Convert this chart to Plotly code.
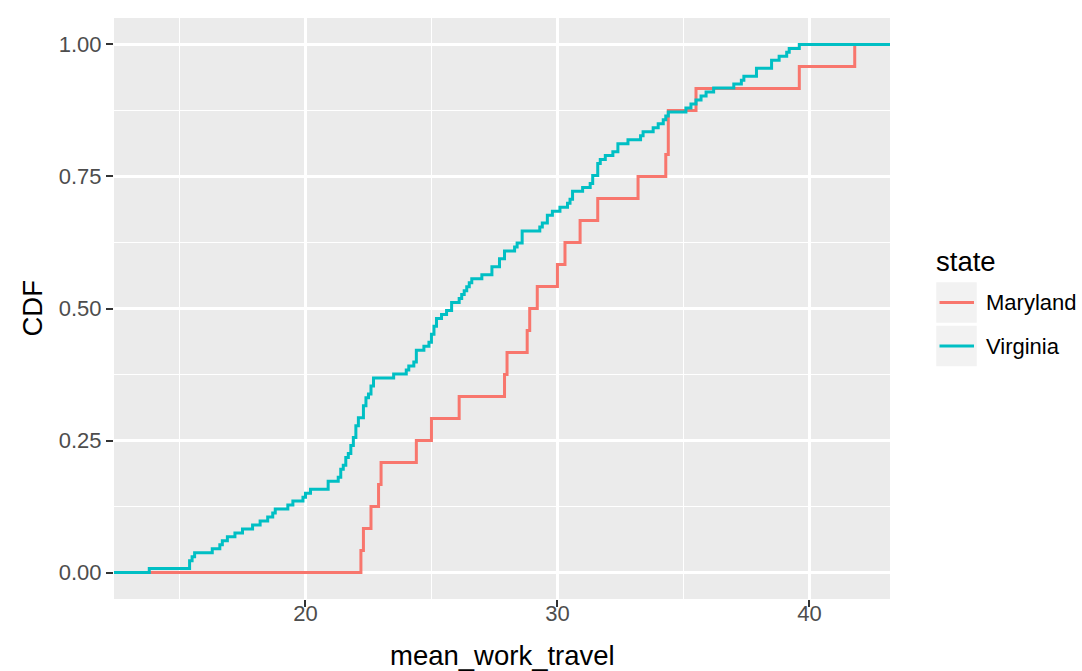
import numpy as np
import plotly.graph_objects as go

# ---- data: mean_work_travel per county ----
maryland_travel = [22.2, 22.3, 22.6, 22.9, 23.0, 24.4, 25.0, 26.1, 27.9, 28.0,
                   28.8, 28.9, 29.2, 30.0, 30.3, 30.9, 31.6, 33.2, 34.3, 34.4,
                   34.4, 35.5, 39.6, 41.8]

virginia_travel = [13.8, 15.4, 15.4, 15.5, 15.6, 16.3, 16.6, 16.7, 16.9, 17.2,
                   17.5, 17.9, 18.2, 18.5, 18.7, 18.8, 19.3, 19.5, 19.9, 20.0,
                   20.2, 20.9, 20.9, 21.3, 21.4, 21.4, 21.5, 21.6, 21.6, 21.7,
                   21.8, 21.8, 21.9, 21.9, 22.0, 22.0, 22.0, 22.1, 22.1, 22.3,
                   22.3, 22.3, 22.4, 22.4, 22.5, 22.6, 22.6, 22.7, 22.7, 23.5,
                   24.0, 24.1, 24.3, 24.4, 24.4, 24.4, 24.7, 24.9, 25.0, 25.0,
                   25.1, 25.1, 25.2, 25.2, 25.4, 25.6, 25.8, 25.8, 26.1, 26.2,
                   26.3, 26.4, 26.5, 26.6, 27.0, 27.4, 27.4, 27.7, 27.7, 27.9,
                   27.9, 28.3, 28.4, 28.6, 28.6, 28.6, 29.3, 29.4, 29.6, 29.6,
                   29.8, 30.1, 30.4, 30.5, 30.6, 30.6, 31.0, 31.3, 31.4, 31.4,
                   31.6, 31.6, 31.6, 31.7, 31.9, 32.2, 32.4, 32.4, 32.8, 33.3,
                   33.4, 33.8, 34.0, 34.2, 34.3, 34.4, 35.1, 35.3, 35.5, 35.7,
                   35.9, 36.2, 37.0, 37.3, 37.4, 37.9, 37.9, 38.5, 38.5, 38.8,
                   39.1, 39.2, 39.6]

states = ["Maryland", "Virginia"]
state_colors = {"Maryland": "#F8766D", "Virginia": "#00BFC4"}
state_values = {"Maryland": maryland_travel, "Virginia": virginia_travel}

x_major = [20, 30, 40]
x_minor = [15, 25, 35]
y_major = [0.0, 0.25, 0.5, 0.75, 1.0]
y_labels = ["0.00", "0.25", "0.50", "0.75", "1.00"]
y_minor = [0.125, 0.375, 0.625, 0.875]

# ---- scales (ggplot-like 5% expansion) ----
all_vals = np.concatenate([np.asarray(v, float) for v in state_values.values()])
span = all_vals.max() - all_vals.min()
x_lo = all_vals.min() - 0.05 * span
x_hi = all_vals.max() + 0.05 * span
y_lo, y_hi = -0.05, 1.05

FONT = "Liberation Sans, Arial, Helvetica, sans-serif"

fig = go.Figure()
for st in states:
    v = np.sort(np.asarray(state_values[st], float))
    uniq, counts = np.unique(v, return_counts=True)
    cdf = np.cumsum(counts) / len(v)
    xs = np.concatenate([[x_lo - 5], uniq, [x_hi + 5]])
    ys = np.concatenate([[0.0], cdf, [1.0]])
    fig.add_trace(go.Scatter(x=xs, y=ys, mode="lines", name=st,
                             line=dict(color=state_colors[st], width=3, shape="hv"),
                             showlegend=False, hoverinfo="skip"))

W, H = 1082, 671
ML, MR, MT, MB = 114, 192, 18, 72
PW, PH = W - ML - MR, H - MT - MB

def px(xp):
    return (xp - ML) / PW

def py(yp):
    return 1 - (yp - MT) / PH

tickfont = dict(family=FONT, size=22, color="#4D4D4D")

fig.update_layout(
    width=W, height=H, autosize=False,
    margin=dict(l=ML, r=MR, t=MT, b=MB, pad=0),
    paper_bgcolor="white", plot_bgcolor="#EBEBEB",
    font=dict(family=FONT, color="black"),
    xaxis=dict(range=[x_lo, x_hi], tickvals=x_major, ticktext=[str(t) for t in x_major],
               showgrid=True, gridcolor="white", gridwidth=2.6, zeroline=False,
               ticks="outside", ticklen=7, tickwidth=2.4, tickcolor="#333333",
               tickfont=tickfont, showline=False, ticklabelstandoff=-12,
               minor=dict(tickvals=x_minor, showgrid=True, gridcolor="white",
                          gridwidth=1.3, ticks="")),
    yaxis=dict(range=[y_lo, y_hi], tickvals=y_major, ticktext=y_labels,
               showgrid=True, gridcolor="white", gridwidth=2.6, zeroline=False,
               ticks="outside", ticklen=7, tickwidth=2.4, tickcolor="#333333",
               tickfont=tickfont, showline=False,
               minor=dict(tickvals=y_minor, showgrid=True, gridcolor="white",
                          gridwidth=1.3, ticks="")),
)

annotations = [
    dict(text="mean_work_travel", x=0.5, y=0, xref="paper", yref="paper",
         xanchor="center", yanchor="middle", yshift=-(655 - (MT + PH)),
         showarrow=False, font=dict(family=FONT, size=27.5, color="black")),
    dict(text="CDF", x=0, y=0.5, xref="paper", yref="paper", textangle=-90,
         xanchor="center", yanchor="middle", xshift=-(ML - 32),
         showarrow=False, font=dict(family=FONT, size=27.5, color="black")),
    dict(text="state", x=px(934), y=py(261), xref="paper", yref="paper",
         xanchor="left", yanchor="middle", showarrow=False,
         font=dict(family=FONT, size=27.5, color="black")),
]
shapes = []
key_tops = [281.5, 325]
key_h = 42
for i, st in enumerate(states):
    top = key_tops[i]
    cy = top + key_h / 2
    shapes.append(dict(type="rect", xref="paper", yref="paper",
                       x0=px(935.5), x1=px(977.5), y0=py(top + key_h), y1=py(top),
                       fillcolor="#F2F2F2", line=dict(color="white", width=1.5),
                       layer="above"))
    shapes.append(dict(type="line", xref="paper", yref="paper",
                       x0=px(939.5), x1=px(974), y0=py(cy), y1=py(cy),
                       line=dict(color=state_colors[st], width=3), layer="above"))
    annotations.append(dict(text=st, x=px(984), y=py(cy), xref="paper", yref="paper",
                            xanchor="left", yanchor="middle", showarrow=False,
                            font=dict(family=FONT, size=22, color="black")))

fig.update_layout(annotations=annotations, shapes=shapes)
fig.write_html("out.html")
